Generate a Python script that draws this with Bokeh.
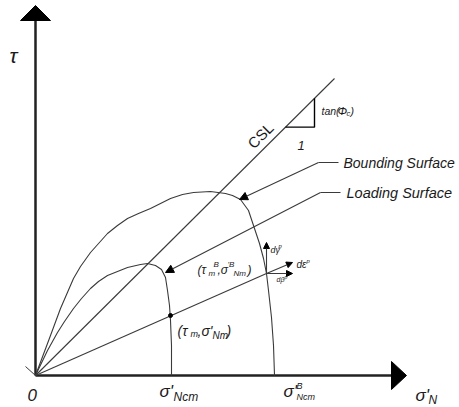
from bokeh.plotting import figure
from bokeh.models import Range1d, Label, Arrow, NormalHead
from bokeh.embed import file_html
from bokeh.resources import INLINE

# ---------------- data (schematic; sigma'_N, tau units) ----
bound_sigma = [0, 15, 25, 38, 45, 55, 72, 82, 92, 103, 115, 135, 147, 158, 175, 190, 197, 205, 213, 219, 224, 228, 231, 233, 236, 238, 239]
bound_tau   = [0, 40, 67, 97, 109, 123, 142, 150, 157, 162, 167, 177, 181, 183, 184, 182, 180, 176, 165, 147, 132, 117, 102, 85, 58, 30, 0]

load_sigma = [0, 12, 22, 29, 38, 46, 55, 63, 72, 82, 92, 105, 112, 120, 126, 130, 132, 134, 135, 136, 136]
load_tau   = [0, 25, 43, 54, 67, 77, 87, 94, 100, 104, 108, 111, 112, 110, 106, 98, 85, 70, 55, 30, 0]

csl_sigma = [0, 299]
csl_tau = [0, 297]

# stress point on loading surface and its image on bounding surface
point_sigma = [135]
point_tau = [60]
image_sigma = 231
image_tau = 102

LINE = "#3a3a3a"
AXIS = "#222222"
TXT = "#1a1a1a"
FONT = "Liberation Sans"

p = figure(width=459, height=407, x_range=Range1d(-35, 424), y_range=Range1d(-32, 375),
           output_backend="svg", toolbar_location=None, min_border=0,
           x_axis_location=None, y_axis_location=None)
p.grid.visible = False
p.outline_line_color = None
p.background_fill_color = "white"
p.border_fill_color = "white"

# axes (drawn as arrows)
p.line([0, 356], [0, 0], line_color=AXIS, line_width=2.5)
p.line([0, 0], [0, 356], line_color=AXIS, line_width=2.5)
p.patch([356, 371, 356], [14, 0, -14], fill_color="black", line_color="black")
p.patch([-15, 0, 15], [355, 370, 355], fill_color="black", line_color="black")

# surfaces
p.line(bound_sigma, bound_tau, line_color=LINE, line_width=1.1, line_join="round")
p.line(load_sigma, load_tau, line_color=LINE, line_width=1.1, line_join="round")

# CSL and slope triangle
p.line(csl_sigma, csl_tau, line_color=LINE, line_width=1.1)
k = csl_tau[1] / csl_sigma[1]
p.line([250, 279, 279], [250 * k, 250 * k, 279 * k], line_color="black", line_width=1.4)

# radial line through the stress point to its image point
p.line([0, image_sigma], [0, image_tau], line_color=LINE, line_width=1.1)
p.scatter(point_sigma, point_tau, size=4, color="black")
p.line([-10, 0], [9, 0], line_color=LINE, line_width=1)

def arrow(x0, y0, x1, y1, size=7):
    p.add_layout(Arrow(end=NormalHead(size=size, fill_color="black", line_color="black", line_width=1),
                       x_start=x0, y_start=y0, x_end=x1, y_end=y1,
                       line_color=LINE, line_width=1.1))

# plastic increments at the image point
arrow(image_sigma, image_tau, image_sigma, image_tau + 31, size=6)
arrow(image_sigma, image_tau, 257, 113, size=6)
arrow(image_sigma, image_tau, 257, image_tau, size=6)

# leaders
p.line([303, 283], [213, 213], line_color=LINE, line_width=1.1)
arrow(283, 213, 204, 176, size=8)
p.line([305, 285], [183, 183], line_color=LINE, line_width=1.1)
arrow(285, 183, 130, 103, size=8)

def lab(px, pyc, text, size, style="italic", angle=0, align="left"):
    p.add_layout(Label(x=px - 35, y=375 - pyc, text=text, text_font=FONT,
                       text_font_size=f"{size}px", text_font_style=style,
                       text_color=TXT, text_align=align, text_baseline="middle",
                       angle=angle, angle_units="deg"))

# axis labels
lab(9, 55, "τ", 21)
lab(27, 394, "0", 17)
lab(159, 391, "σ'", 17)
lab(173, 396, "Ncm", 12)
lab(283, 391, "σ'", 17)
lab(296, 385, "B", 9)
lab(296, 396, "Ncm", 9)
lab(415, 395, "σ'", 17)
lab(428, 399, "N", 12)

# CSL and slope
lab(260, 135, "CSL", 15, style="normal", angle=45, align="center")
lab(321, 110, "tan(", 10.5)
lab(337, 110, "Φ", 11.5)
lab(346, 113, "c", 7.5)
lab(350, 110, ")", 10.5)
lab(297, 145, "1", 13)

# surfaces
lab(343, 162, "Bounding Surface", 14)
lab(346, 192, "Loading Surface", 14.5)

# image point label
lab(197, 269, "(τ", 12)
lab(208, 273, "m", 8)
lab(213, 264, "B", 8)
lab(217, 269, ",σ", 12)
lab(227, 264, "'B", 8)
lab(233, 273, "Nm", 8)
lab(247, 269, ")", 12)

# stress point label
lab(177, 330, "(τ", 14)
lab(190, 333, "m", 9)
lab(197, 330, ",σ'", 14)
lab(212, 335, "Nm", 10)
lab(226, 330, ")", 14)

# increments
lab(270, 249, "dγ", 9)
lab(278, 245, "p", 6)
lab(296, 264, "dε", 10)
lab(306, 260, "p", 6)
lab(276, 279, "dβ", 7)
lab(284, 276, "p", 5)

open("out.html", "w").write(file_html(p, INLINE))
